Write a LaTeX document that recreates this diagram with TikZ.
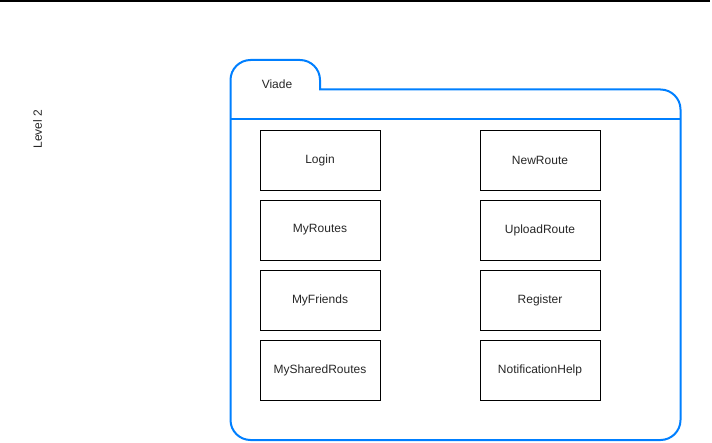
\documentclass[tikz,border=0pt]{standalone}
\usepackage{fontspec}
\setmainfont{Liberation Sans}
\definecolor{folderblue}{HTML}{007FFF}
\begin{document}
\begin{tikzpicture}[x=0.75pt,y=-0.75pt,
  comp/.style={draw=black,line width=0.75pt,minimum width=90pt,minimum height=45pt,inner sep=0pt,font=\fontsize{9pt}{11pt}\selectfont,text=black!85},
  lbl/.style={font=\fontsize{9pt}{11pt}\selectfont,text=black!85}]
\useasboundingbox (0,0) rectangle (712,442);
\draw[line width=1.2pt] (0,0.8) -- (710,0.8);
\draw[folderblue,line width=1.5pt]
  (230.5,420) -- (230.5,80) .. controls (230.5,69) and (239.5,60) .. (250.5,60) -- (300,60)
  .. controls (311,60) and (320,69) .. (320,80) -- (320,89.5) -- (660.5,89.5)
  .. controls (671.5,89.5) and (680.5,98.5) .. (680.5,109.5) -- (680.5,420)
  .. controls (680.5,431) and (671.5,440) .. (660.5,440) -- (250.5,440)
  .. controls (239.5,440) and (230.5,431) .. (230.5,420) -- cycle;
\draw[folderblue,line width=1.5pt] (230.5,119) -- (680.5,119);
\node[lbl] (viade) at (277,84.5) {Viade};
\node[lbl,rotate=90] (level) at (37.5,129) {Level 2};
\node[comp] (login) at (320,160) {\raisebox{-0.7pt}{Login}};
\node[comp] (myroutes) at (320,230) {\raisebox{-0.7pt}{MyRoutes}};
\node[comp] (myfriends) at (320,300) {\raisebox{-0.7pt}{MyFriends}};
\node[comp] (myshared) at (320,370) {\raisebox{-0.7pt}{MySharedRoutes}};
\node[comp] (newroute) at (540,160) {\raisebox{-0.7pt}{NewRoute}};
\node[comp] (upload) at (540,230) {\raisebox{-0.7pt}{UploadRoute}};
\node[comp] (register) at (540,300) {\raisebox{-0.7pt}{Register}};
\node[comp] (notif) at (540,370) {\raisebox{-0.7pt}{NotificationHelp}};
\end{tikzpicture}
\end{document}
